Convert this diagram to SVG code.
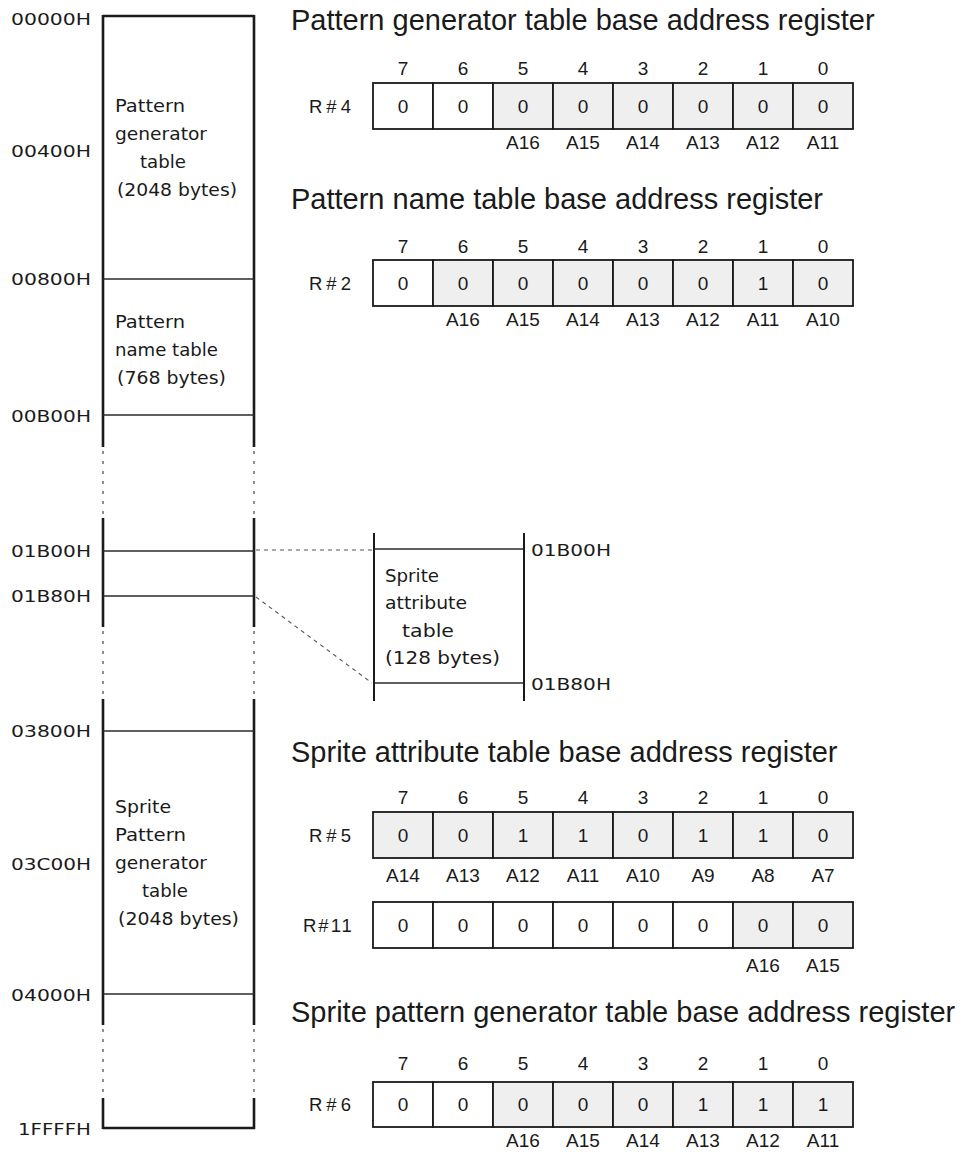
<svg xmlns="http://www.w3.org/2000/svg" width="966" height="1154" viewBox="0 0 966 1154">
<style>
.thick{stroke:#1a1a1a;stroke-width:2.6;fill:none}
.thin{stroke:#2a2a2a;stroke-width:1.3;fill:none}
.dot{stroke:#444;stroke-width:1.2;fill:none;stroke-dasharray:3 7}
.dash{stroke:#555;stroke-width:1.1;fill:none;stroke-dasharray:4 4}
.mem{font-family:"DejaVu Sans",sans-serif;font-size:17.5px;fill:#1a1a1a}
.addr{font-family:"DejaVu Sans",sans-serif;font-size:16.5px;fill:#1a1a1a}
.title{font-family:"Liberation Sans",Arial,sans-serif;font-size:29px;fill:#1a1a1a}
.num{font-family:"Liberation Sans",Arial,sans-serif;font-size:19px;fill:#1a1a1a;text-anchor:middle}
.rl{font-family:"Liberation Sans",Arial,sans-serif;font-size:18.5px;fill:#1a1a1a;letter-spacing:4px}
.cell{fill:#fff;stroke:#1a1a1a;stroke-width:1.8}
.sh{fill:#efefef;stroke:#1a1a1a;stroke-width:1.8}
</style>

<g id="memory-map">
  <line class="thick" x1="103" y1="16" x2="254" y2="16"/>
  <line class="thick" x1="103" y1="1128" x2="255" y2="1128"/>
  <line class="thick" x1="103" y1="15" x2="103" y2="447"/>
  <line class="thick" x1="254" y1="15" x2="254" y2="447"/>
  <line class="thick" x1="103" y1="518" x2="103" y2="627"/>
  <line class="thick" x1="254" y1="518" x2="254" y2="627"/>
  <line class="thick" x1="103" y1="699" x2="103" y2="1025"/>
  <line class="thick" x1="254" y1="699" x2="254" y2="1025"/>
  <line class="thick" x1="103" y1="1098" x2="103" y2="1129"/>
  <line class="thick" x1="254" y1="1098" x2="254" y2="1129"/>
  <line class="dot" x1="103" y1="451" x2="103" y2="516"/>
  <line class="dot" x1="254" y1="451" x2="254" y2="516"/>
  <line class="dot" x1="103" y1="631" x2="103" y2="697"/>
  <line class="dot" x1="254" y1="631" x2="254" y2="697"/>
  <line class="dot" x1="103" y1="1029" x2="103" y2="1096"/>
  <line class="dot" x1="254" y1="1029" x2="254" y2="1096"/>
  <line class="thin" x1="103" y1="279" x2="254" y2="279"/>
  <line class="thin" x1="103" y1="415" x2="254" y2="415"/>
  <line class="thin" x1="103" y1="551" x2="254" y2="551"/>
  <line class="thin" x1="103" y1="596" x2="254" y2="596"/>
  <line class="thin" x1="103" y1="731" x2="254" y2="731"/>
  <line class="thin" x1="103" y1="994" x2="254" y2="994"/>

  <text class="addr" x="11" y="25" textLength="80" lengthAdjust="spacingAndGlyphs">00000H</text>
  <text class="addr" x="11" y="157" textLength="80" lengthAdjust="spacingAndGlyphs">00400H</text>
  <text class="addr" x="11" y="285" textLength="80" lengthAdjust="spacingAndGlyphs">00800H</text>
  <text class="addr" x="11" y="422" textLength="80" lengthAdjust="spacingAndGlyphs">00B00H</text>
  <text class="addr" x="11" y="557" textLength="80" lengthAdjust="spacingAndGlyphs">01B00H</text>
  <text class="addr" x="11" y="602" textLength="80" lengthAdjust="spacingAndGlyphs">01B80H</text>
  <text class="addr" x="11" y="737" textLength="80" lengthAdjust="spacingAndGlyphs">03800H</text>
  <text class="addr" x="11" y="870" textLength="80" lengthAdjust="spacingAndGlyphs">03C00H</text>
  <text class="addr" x="11" y="1001" textLength="80" lengthAdjust="spacingAndGlyphs">04000H</text>
  <text class="addr" x="18" y="1135" textLength="73" lengthAdjust="spacingAndGlyphs">1FFFFH</text>

  <g id="pgt">
    <text class="mem" x="115" y="112" textLength="70" lengthAdjust="spacingAndGlyphs">Pattern</text>
    <text class="mem" x="115" y="140" textLength="92" lengthAdjust="spacingAndGlyphs">generator</text>
    <text class="mem" x="140" y="168" textLength="46" lengthAdjust="spacingAndGlyphs">table</text>
    <text class="mem" x="117" y="196" textLength="120" lengthAdjust="spacingAndGlyphs">(2048 bytes)</text>
  </g>
  <g id="pnt">
    <text class="mem" x="115" y="328" textLength="70" lengthAdjust="spacingAndGlyphs">Pattern</text>
    <text class="mem" x="115" y="356" textLength="103" lengthAdjust="spacingAndGlyphs">name table</text>
    <text class="mem" x="117" y="384" textLength="109" lengthAdjust="spacingAndGlyphs">(768 bytes)</text>
  </g>
  <g id="spgt">
    <text class="mem" x="115" y="813" textLength="56" lengthAdjust="spacingAndGlyphs">Sprite</text>
    <text class="mem" x="115" y="841" textLength="71" lengthAdjust="spacingAndGlyphs">Pattern</text>
    <text class="mem" x="115" y="869" textLength="92" lengthAdjust="spacingAndGlyphs">generator</text>
    <text class="mem" x="142" y="897" textLength="46" lengthAdjust="spacingAndGlyphs">table</text>
    <text class="mem" x="118" y="925" textLength="121" lengthAdjust="spacingAndGlyphs">(2048 bytes)</text>
  </g>
</g>

<g id="sprite-attribute-inset">
  <line class="thick" x1="374" y1="533" x2="374" y2="701" style="stroke-width:2"/>
  <line class="thick" x1="524" y1="533" x2="524" y2="701" style="stroke-width:2"/>
  <line class="thin" x1="374" y1="549" x2="523" y2="549"/>
  <line class="thin" x1="374" y1="683" x2="523" y2="683"/>
  <text class="mem" x="385" y="582" textLength="54" lengthAdjust="spacingAndGlyphs">Sprite</text>
  <text class="mem" x="385" y="609" textLength="82" lengthAdjust="spacingAndGlyphs">attribute</text>
  <text class="mem" x="402" y="637" textLength="52" lengthAdjust="spacingAndGlyphs">table</text>
  <text class="mem" x="385" y="664" textLength="115" lengthAdjust="spacingAndGlyphs">(128 bytes)</text>
  <text class="addr" x="531" y="556" textLength="80" lengthAdjust="spacingAndGlyphs">01B00H</text>
  <text class="addr" x="531" y="690" textLength="80" lengthAdjust="spacingAndGlyphs">01B80H</text>
</g>

<g id="connectors">
  <line class="dash" x1="256" y1="550" x2="373" y2="550"/>
  <line class="dash" x1="256" y1="597" x2="372" y2="683"/>
</g>

<g id="reg-r4">
  <text class="title" x="291" y="30">Pattern generator table base address register</text>
  <g class="num">
    <text x="403" y="75">7</text><text x="463" y="75">6</text><text x="523" y="75">5</text><text x="583" y="75">4</text>
    <text x="643" y="75">3</text><text x="703" y="75">2</text><text x="763" y="75">1</text><text x="823" y="75">0</text>
  </g>
  <text class="rl" x="309" y="113">R#4</text>
  <rect class="cell" x="373" y="83" width="60" height="46"/>
  <rect class="cell" x="433" y="83" width="60" height="46"/>
  <rect class="sh" x="493" y="83" width="60" height="46"/>
  <rect class="sh" x="553" y="83" width="60" height="46"/>
  <rect class="sh" x="613" y="83" width="60" height="46"/>
  <rect class="sh" x="673" y="83" width="60" height="46"/>
  <rect class="sh" x="733" y="83" width="60" height="46"/>
  <rect class="sh" x="793" y="83" width="60" height="46"/>
  <g class="num">
    <text x="403" y="113">0</text><text x="463" y="113">0</text><text x="523" y="113">0</text><text x="583" y="113">0</text>
    <text x="643" y="113">0</text><text x="703" y="113">0</text><text x="763" y="113">0</text><text x="823" y="113">0</text>
    <text x="523" y="149">A16</text><text x="583" y="149">A15</text><text x="643" y="149">A14</text>
    <text x="703" y="149">A13</text><text x="763" y="149">A12</text><text x="823" y="149">A11</text>
  </g>
</g>

<g id="reg-r2">
  <text class="title" x="291" y="209">Pattern name table base address register</text>
  <g class="num">
    <text x="403" y="253">7</text><text x="463" y="253">6</text><text x="523" y="253">5</text><text x="583" y="253">4</text>
    <text x="643" y="253">3</text><text x="703" y="253">2</text><text x="763" y="253">1</text><text x="823" y="253">0</text>
  </g>
  <text class="rl" x="309" y="290">R#2</text>
  <rect class="cell" x="373" y="260" width="60" height="46"/>
  <rect class="sh" x="433" y="260" width="60" height="46"/>
  <rect class="sh" x="493" y="260" width="60" height="46"/>
  <rect class="sh" x="553" y="260" width="60" height="46"/>
  <rect class="sh" x="613" y="260" width="60" height="46"/>
  <rect class="sh" x="673" y="260" width="60" height="46"/>
  <rect class="sh" x="733" y="260" width="60" height="46"/>
  <rect class="sh" x="793" y="260" width="60" height="46"/>
  <g class="num">
    <text x="403" y="290">0</text><text x="463" y="290">0</text><text x="523" y="290">0</text><text x="583" y="290">0</text>
    <text x="643" y="290">0</text><text x="703" y="290">0</text><text x="763" y="290">1</text><text x="823" y="290">0</text>
    <text x="463" y="326">A16</text><text x="523" y="326">A15</text><text x="583" y="326">A14</text><text x="643" y="326">A13</text>
    <text x="703" y="326">A12</text><text x="763" y="326">A11</text><text x="823" y="326">A10</text>
  </g>
</g>

<g id="reg-r5">
  <text class="title" x="291" y="762">Sprite attribute table base address register</text>
  <g class="num">
    <text x="403" y="804">7</text><text x="463" y="804">6</text><text x="523" y="804">5</text><text x="583" y="804">4</text>
    <text x="643" y="804">3</text><text x="703" y="804">2</text><text x="763" y="804">1</text><text x="823" y="804">0</text>
  </g>
  <text class="rl" x="309" y="842">R#5</text>
  <rect class="sh" x="373" y="812" width="60" height="46"/>
  <rect class="sh" x="433" y="812" width="60" height="46"/>
  <rect class="sh" x="493" y="812" width="60" height="46"/>
  <rect class="sh" x="553" y="812" width="60" height="46"/>
  <rect class="sh" x="613" y="812" width="60" height="46"/>
  <rect class="sh" x="673" y="812" width="60" height="46"/>
  <rect class="sh" x="733" y="812" width="60" height="46"/>
  <rect class="sh" x="793" y="812" width="60" height="46"/>
  <g class="num">
    <text x="403" y="842">0</text><text x="463" y="842">0</text><text x="523" y="842">1</text><text x="583" y="842">1</text>
    <text x="643" y="842">0</text><text x="703" y="842">1</text><text x="763" y="842">1</text><text x="823" y="842">0</text>
    <text x="403" y="882">A14</text><text x="463" y="882">A13</text><text x="523" y="882">A12</text><text x="583" y="882">A11</text>
    <text x="643" y="882">A10</text><text x="703" y="882">A9</text><text x="763" y="882">A8</text><text x="823" y="882">A7</text>
  </g>
</g>

<g id="reg-r11">
  <text class="rl" x="303" y="932" style="letter-spacing:2px">R#11</text>
  <rect class="cell" x="373" y="902" width="60" height="46"/>
  <rect class="cell" x="433" y="902" width="60" height="46"/>
  <rect class="cell" x="493" y="902" width="60" height="46"/>
  <rect class="cell" x="553" y="902" width="60" height="46"/>
  <rect class="cell" x="613" y="902" width="60" height="46"/>
  <rect class="cell" x="673" y="902" width="60" height="46"/>
  <rect class="sh" x="733" y="902" width="60" height="46"/>
  <rect class="sh" x="793" y="902" width="60" height="46"/>
  <g class="num">
    <text x="403" y="932">0</text><text x="463" y="932">0</text><text x="523" y="932">0</text><text x="583" y="932">0</text>
    <text x="643" y="932">0</text><text x="703" y="932">0</text><text x="763" y="932">0</text><text x="823" y="932">0</text>
    <text x="763" y="972">A16</text><text x="823" y="972">A15</text>
  </g>
</g>

<g id="reg-r6">
  <text class="title" x="291" y="1022">Sprite pattern generator table base address register</text>
  <g class="num">
    <text x="403" y="1070">7</text><text x="463" y="1070">6</text><text x="523" y="1070">5</text><text x="583" y="1070">4</text>
    <text x="643" y="1070">3</text><text x="703" y="1070">2</text><text x="763" y="1070">1</text><text x="823" y="1070">0</text>
  </g>
  <text class="rl" x="309" y="1111">R#6</text>
  <rect class="cell" x="373" y="1082" width="60" height="45"/>
  <rect class="cell" x="433" y="1082" width="60" height="45"/>
  <rect class="sh" x="493" y="1082" width="60" height="45"/>
  <rect class="sh" x="553" y="1082" width="60" height="45"/>
  <rect class="sh" x="613" y="1082" width="60" height="45"/>
  <rect class="sh" x="673" y="1082" width="60" height="45"/>
  <rect class="sh" x="733" y="1082" width="60" height="45"/>
  <rect class="sh" x="793" y="1082" width="60" height="45"/>
  <g class="num">
    <text x="403" y="1111">0</text><text x="463" y="1111">0</text><text x="523" y="1111">0</text><text x="583" y="1111">0</text>
    <text x="643" y="1111">0</text><text x="703" y="1111">1</text><text x="763" y="1111">1</text><text x="823" y="1111">1</text>
    <text x="523" y="1147">A16</text><text x="583" y="1147">A15</text><text x="643" y="1147">A14</text>
    <text x="703" y="1147">A13</text><text x="763" y="1147">A12</text><text x="823" y="1147">A11</text>
  </g>
</g>
</svg>
